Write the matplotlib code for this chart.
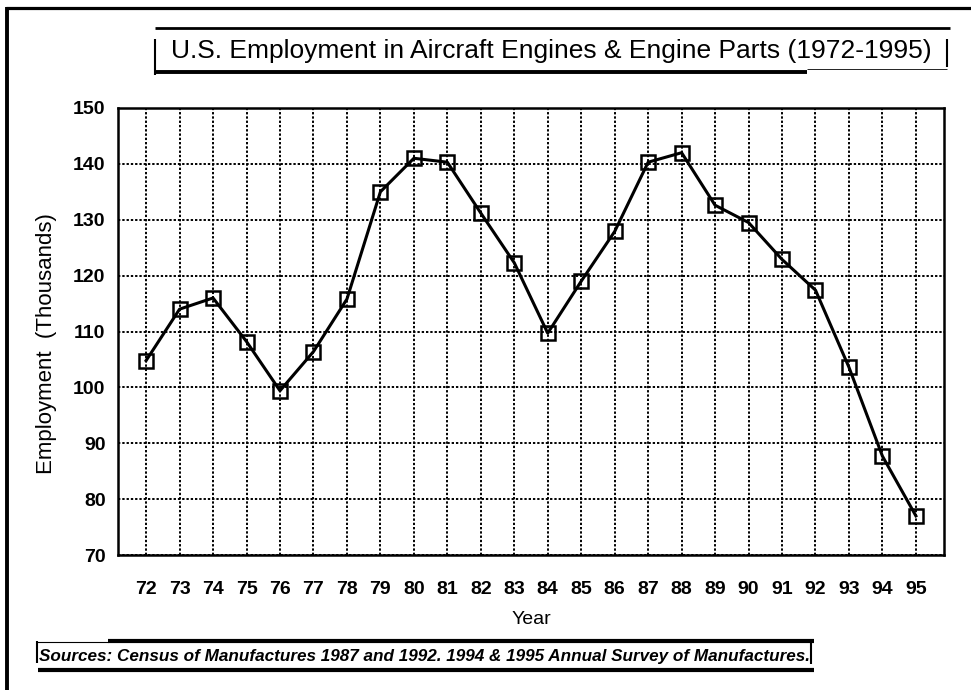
import numpy as np
import matplotlib.pyplot as plt
from matplotlib.lines import Line2D

years = [72, 73, 74, 75, 76, 77, 78, 79, 80, 81, 82, 83,
         84, 85, 86, 87, 88, 89, 90, 91, 92, 93, 94, 95]
employment = [104.8, 114.0, 116.0, 108.2, 99.4, 106.4, 115.8, 135.0, 141.0, 140.3, 131.2, 122.3,
              109.7, 119.0, 127.9, 140.3, 142.0, 132.6, 129.5, 122.9, 117.4, 103.6, 87.7, 77.0]
yticks = [70, 80, 90, 100, 110, 120, 130, 140, 150]

title = 'U.S. Employment in Aircraft Engines & Engine Parts (1972-1995)'
source = 'Sources: Census of Manufactures 1987 and 1992. 1994 & 1995 Annual Survey of Manufactures.'

plt.rcParams['font.family'] = ['Liberation Sans', 'DejaVu Sans']

fig = plt.figure(figsize=(9.71, 6.90), dpi=100)
W, H = 971.0, 690.0


def fx(px):
    return px / W


def fy(py):
    return 1 - py / H


def fline(xs, ys, lw):
    fig.add_artist(Line2D([fx(x) for x in xs], [fy(y) for y in ys], color='black', lw=lw,
                          transform=fig.transFigure, solid_capstyle='butt'))


# outer frame
fline([7, 7], [7, 690], 2.8)
fline([6, 971], [8, 8], 2.3)

# title box
fline([155, 950], [28, 28], 2)
fline([155, 155], [39, 75], 1.5)
fline([947, 947], [39, 67], 1.5)
fline([155, 807], [72, 72], 2.8)
fline([807, 947], [69, 69], 0.6)
fig.text(fx(551), fy(51), title, ha='center', va='center', fontsize=19)

# source box
fline([37, 108], [642, 642], 0.8)
fline([108, 814], [641, 641], 3)
fline([37, 37], [641, 663], 1.5)
fline([811, 811], [641, 664], 1.5)
fline([38, 814], [670, 670], 3)
fig.text(fx(39), fy(656), source, ha='left', va='center', fontsize=12.3,
         fontweight='bold', fontstyle='italic')

ax = fig.add_axes([fx(118), fy(555), fx(944) - fx(118), fy(108) - fy(555)])
ax.plot(years, employment, color='black', lw=2.2, marker='s', markersize=9.5,
        markerfacecolor='none', markeredgecolor='black', markeredgewidth=1.8, zorder=3)

ax.set_xlim(71.16, 95.84)
ax.set_ylim(70, 150)
ax.set_xticks(years)
ax.set_xticklabels([str(y) for y in years], fontsize=14, fontweight='bold')
ax.set_yticks(yticks)
ax.set_yticklabels([str(t) for t in yticks], fontsize=14, fontweight='bold')
ax.tick_params(length=0)
ax.tick_params(axis='y', pad=9)
ax.tick_params(axis='x', pad=19)
ax.grid(True, color='black', ls=(0, (1.2, 1.0)), lw=1.4)
ax.set_axisbelow(True)
for s in ax.spines.values():
    s.set_linewidth(1.8)

ax.set_xlabel('Year', fontsize=14)
ax.xaxis.set_label_coords(0.5, -0.125)
ax.set_ylabel('Employment  (Thousands)', fontsize=16)
ax.yaxis.set_label_coords(-0.074, 0.473)

fig.savefig('out.png', dpi=100)
